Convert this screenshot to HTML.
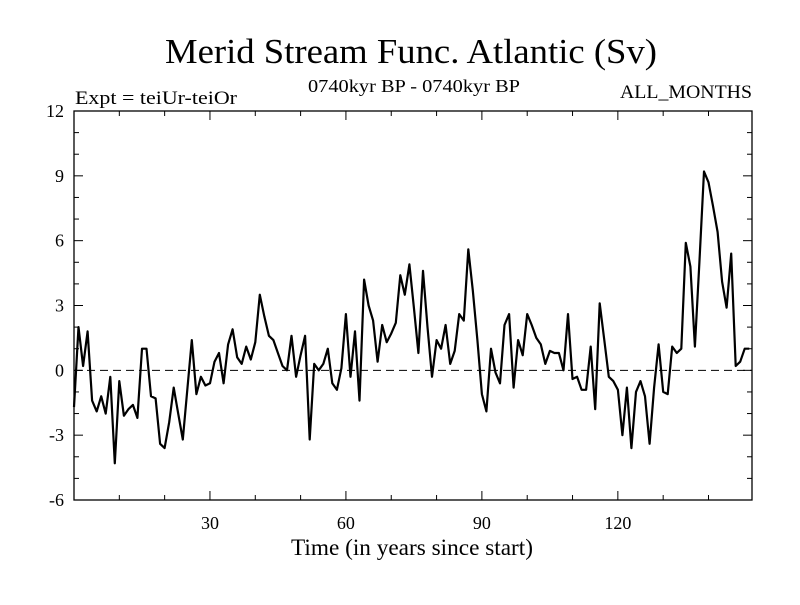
<!DOCTYPE html>
<html><head><meta charset="utf-8"><style>
body{margin:0;background:#fff}
svg text{font-family:"Liberation Serif",serif;fill:#000}
</style></head><body>
<svg id="chart" width="800" height="600" viewBox="0 0 800 600" xmlns="http://www.w3.org/2000/svg">
<text x="165" y="63" font-size="35" textLength="492" lengthAdjust="spacingAndGlyphs">Merid Stream Func. Atlantic (Sv)</text>
<text x="75" y="104" font-size="19" textLength="162" lengthAdjust="spacingAndGlyphs">Expt = teiUr-teiOr</text>
<text x="308" y="92" font-size="18" textLength="212" lengthAdjust="spacingAndGlyphs">0740kyr BP - 0740kyr BP</text>
<text x="620" y="98" font-size="19" textLength="132" lengthAdjust="spacingAndGlyphs">ALL_MONTHS</text>
<text x="291" y="555" font-size="23" textLength="242" lengthAdjust="spacingAndGlyphs">Time (in years since start)</text>
<g id="axes"></g>
<g id="series"></g>
</svg>
<script>
const yValues=[-1.7,2.0,0.2,1.8,-1.4,-1.9,-1.2,-2.0,-0.3,-4.3,-0.5,-2.1,-1.8,-1.6,-2.2,1.0,1.0,-1.2,-1.3,-3.4,-3.6,-2.4,-0.8,-2.0,-3.2,-0.9,1.4,-1.1,-0.3,-0.7,-0.6,0.4,0.8,-0.6,1.2,1.9,0.6,0.3,1.1,0.5,1.3,3.5,2.5,1.6,1.4,0.8,0.2,0.0,1.6,-0.3,0.7,1.6,
-3.2,0.3,0.0,0.3,1.0,-0.6,-0.9,0.1,2.6,-0.3,1.8,-1.4,4.2,3.0,2.3,0.4,2.1,1.3,1.7,2.2,4.4,3.5,4.9,2.9,0.8,4.6,2.0,-0.3,1.4,1.0,2.1,0.3,0.9,2.6,2.3,5.6,3.7,1.4,-1.1,-1.9,1.0,-0.1,-0.6,2.1,2.6,-0.8,1.4,0.7,2.6,2.1,1.5,1.2,0.3,
0.9,0.8,0.8,0.0,2.6,-0.4,-0.3,-0.9,-0.9,1.1,-1.8,3.1,1.4,-0.3,-0.5,-0.9,-3.0,-0.8,-3.6,-1.0,-0.5,-1.2,-3.4,-0.8,1.2,-1.0,-1.1,1.1,0.8,1.0,5.9,4.8,1.1,5.0,9.2,8.7,7.6,6.4,4.1,2.9,5.4,0.2,0.4,1.0,1.0];
const xTicks=[30,60,90,120];
const xMinor=[10,20,40,50,70,80,100,110,130,140];
const yTicks=[-6,-3,0,3,6,9,12];
const yMinor=[-5,-4,-2,-1,1,2,4,5,7,8,10,11];
const L=74,R=752,T=111,B=500,X0=0,X1=149.6,Y0=-6,Y1=12;
const NS='http://www.w3.org/2000/svg';
function xs(v){return L+(v-X0)/(X1-X0)*(R-L);}
function ys(v){return B-(v-Y0)/(Y1-Y0)*(B-T);}
const axes=document.getElementById('axes'),ser=document.getElementById('series');
function mk(tag,attrs,parent){const e=document.createElementNS(NS,tag);for(const k in attrs)e.setAttribute(k,attrs[k]);parent.appendChild(e);return e;}
const frame=mk('rect',{x:L,y:T,width:R-L,height:B-T,fill:'none',stroke:'#000','stroke-width':1.3},axes);


const zl=mk('line',{x1:L,x2:R,y1:ys(0),y2:ys(0),stroke:'#000','stroke-width':1,'stroke-dasharray':'8,5'},axes);


xTicks.forEach(v=>{const x=xs(v);
 const t1=mk('line',{x1:x,x2:x,y1:B,y2:B-9,stroke:'#000'},axes);
 
 
 mk('line',{x1:x,x2:x,y1:T,y2:T+9,stroke:'#000'},axes);
 const tx=mk('text',{x:x,y:B+29,'font-size':18,'text-anchor':'middle'},axes);tx.textContent=v;
 
 
});
xMinor.forEach(v=>{const x=xs(v);mk('line',{x1:x,x2:x,y1:B,y2:B-5,stroke:'#000'},axes);mk('line',{x1:x,x2:x,y1:T,y2:T+5,stroke:'#000'},axes);});
yTicks.forEach(v=>{const y=ys(v);
 const t1=mk('line',{x1:L,x2:L+9,y1:y,y2:y,stroke:'#000'},axes);
 
 
 mk('line',{x1:R,x2:R-9,y1:y,y2:y,stroke:'#000'},axes);
 const tx=mk('text',{x:L-10,y:y+6,'font-size':18,'text-anchor':'end'},axes);tx.textContent=v;
 
 
});
yMinor.forEach(v=>{const y=ys(v);mk('line',{x1:L,x2:L+5,y1:y,y2:y,stroke:'#000'},axes);mk('line',{x1:R,x2:R-5,y1:y,y2:y,stroke:'#000'},axes);});
const pts=yValues.map((v,i)=>xs(i).toFixed(1)+','+ys(v).toFixed(1)).join(' ');
const line=mk('polyline',{points:pts,fill:'none',stroke:'#000','stroke-width':2.2,'stroke-linejoin':'round'},ser);


</script>
</body></html>
